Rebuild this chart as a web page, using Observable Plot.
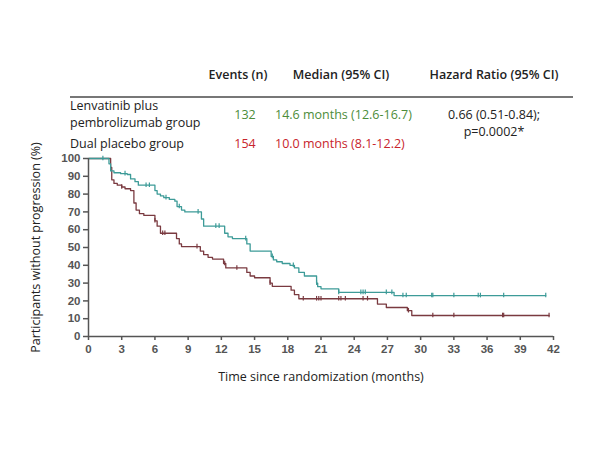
<!DOCTYPE html>
<html>
<head>
<meta charset="utf-8">
<script src="https://cdn.jsdelivr.net/npm/d3@7"></script>
<script src="https://cdn.jsdelivr.net/npm/@observablehq/plot@0.6"></script>
<style>
  html, body { margin: 0; padding: 0; background: #fff; }
  #wrap { position: relative; width: 600px; height: 450px; overflow: hidden; }
  #wrap svg { position: absolute; left: 0; top: 0; }
  .t { position: absolute; font-family: "Open Sans", "Liberation Sans", sans-serif; font-size: 12.5px; color: #222; white-space: nowrap; line-height: 17px; }
  .h { font-weight: 600; }
  .g { color: #4c8c3a; }
  .r { color: #c8242c; }
  .c { transform: translateX(-50%); text-align: center; }
  #hr { position: absolute; left: 70px; top: 96px; width: 503px; height: 0; border-top: 2px solid #777; }
</style>
</head>
<body>
<div id="wrap">
  <div class="t h c" style="left:238px;top:66px">Events (n)</div>
  <div class="t h c" style="left:341px;top:66px">Median (95% CI)</div>
  <div class="t h c" style="left:494px;top:66px">Hazard Ratio (95% CI)</div>
  <div id="hr"></div>
  <div class="t" style="left:70px;top:97px">Lenvatinib plus<br>pembrolizumab group</div>
  <div class="t g c" style="left:245px;top:106px">132</div>
  <div class="t g" style="left:275px;top:106px">14.6 months (12.6-16.7)</div>
  <div class="t c" style="left:494px;top:106px">0.66 (0.51-0.84);<br>p=0.0002*</div>
  <div class="t" style="left:70px;top:135px">Dual placebo group</div>
  <div class="t r c" style="left:245px;top:135px">154</div>
  <div class="t r" style="left:275px;top:135px">10.0 months (8.1-12.2)</div>
</div>
<script>
// Kaplan-Meier step data (months, % without progression)
const lenvaTime = [0, 1.85, 2.0, 2.3, 2.9, 3.5, 3.8, 4.2, 4.5, 6.0, 6.2, 6.5, 6.8, 7.3, 7.8, 8.0, 8.4, 8.7, 10.2, 10.4, 12.3, 12.6, 13.0, 14.3, 14.6, 16.5, 16.7, 17.0, 17.5, 18.2, 18.6, 19.0, 19.5, 20.6, 20.7, 21.0, 22.6, 27.6, 41.3];
const lenvaSurv = [100, 97, 93, 92, 91.5, 91, 88.5, 87, 85, 82, 80, 79, 78, 77, 76, 73, 71, 70, 66, 62, 58, 56, 55, 52, 48, 45, 43, 42, 41, 40, 38.5, 36, 34, 30, 28, 26.8, 24.8, 23, 23];
const placeboTime = [0, 2.0, 2.1, 2.3, 2.6, 3.0, 3.3, 3.8, 4.1, 4.3, 4.6, 5.0, 6.0, 6.2, 6.5, 7.95, 8.2, 8.4, 10.1, 10.4, 10.8, 11.2, 12.2, 12.4, 14.3, 14.6, 15.0, 16.4, 16.6, 18.3, 18.6, 19.0, 26.1, 26.9, 28.8, 29.2, 41.6];
const placeboSurv = [100, 95, 88, 86, 85, 84, 83, 82, 75, 71, 69, 68, 65, 62, 58, 55, 52, 50.5, 48, 46, 44.5, 43.5, 41, 38.5, 36, 34, 33, 30, 28.2, 26, 23.5, 21.2, 18.2, 16.3, 14.5, 11.8, 11.8];
// censoring marks (months)
const lenvaCensor = [1.3, 3.3, 5.2, 5.5, 7.0, 8.2, 9.9, 11.5, 11.8, 14.2, 16.6, 18.5, 20.6, 22.6, 24.6, 24.8, 25.0, 26.9, 27.4, 28.4, 28.7, 31.0, 31.1, 33.0, 35.2, 35.4, 37.5, 41.3];
const placeboCensor = [3.0, 6.0, 6.7, 6.9, 9.8, 12.3, 13.4, 16.4, 19.4, 20.6, 20.8, 21.0, 22.6, 22.8, 23.2, 24.8, 25.2, 28.9, 31.1, 33.0, 37.4, 37.5, 41.6];
const xTicks = d3.range(0, 43, 3);
const yTicks = d3.range(0, 101, 10);

const teal = "#3d9b98";
const maroon = "#7a3a40";

function steps(times, surv, group) {
  return times.map((t, i) => ({time: t, surv: surv[i], group}));
}
function survAt(times, surv, t) {
  let v = surv[0];
  for (let i = 0; i < times.length; i++) if (times[i] <= t) v = surv[i];
  return v;
}
function censors(ts, times, surv, group) {
  return ts.map(t => ({time: t, surv: survAt(times, surv, t), group}));
}
const lenva = steps(lenvaTime, lenvaSurv, "Lenvatinib plus pembrolizumab group");
const placebo = steps(placeboTime, placeboSurv, "Dual placebo group");
const lenvaC = censors(lenvaCensor, lenvaTime, lenvaSurv, "L");
const placeboC = censors(placeboCensor, placeboTime, placeboSurv, "P");

const chart = Plot.plot({
  width: 600,
  height: 450,
  marginLeft: 88,
  marginRight: 47,
  marginTop: 158,
  marginBottom: 114,
  style: {fontFamily: "Liberation Sans, Arial, sans-serif", fontSize: "11.5px", color: "#444", background: "transparent"},
  x: {domain: [0, 42], ticks: xTicks, tickSize: 4, tickPadding: 3, label: null},
  y: {domain: [0, 100], ticks: yTicks, tickSize: 5, tickPadding: 3, label: null},
  marks: [
    Plot.line(placebo, {x: "time", y: "surv", curve: "step-after", stroke: maroon, strokeWidth: 1.3}),
    Plot.line(lenva, {x: "time", y: "surv", curve: "step-after", stroke: teal, strokeWidth: 1.3}),
    Plot.ruleX(placeboC, {x: "time", y1: d => d.surv - 1.3, y2: d => d.surv + 1.3, stroke: maroon, strokeWidth: 1.2}),
    Plot.ruleX(lenvaC, {x: "time", y1: d => d.surv - 1.3, y2: d => d.surv + 1.3, stroke: teal, strokeWidth: 1.2}),
    Plot.ruleY([0], {stroke: "#555", strokeWidth: 1.5}),
    Plot.ruleX([0], {stroke: "#555", strokeWidth: 1.5}),
    Plot.axisX({ticks: xTicks, tickSize: 4, tickPadding: 4, stroke: "#555", strokeWidth: 1.5, fontWeight: "bold", fill: "#555", label: null}),
    Plot.axisY({ticks: yTicks, tickSize: 5, tickPadding: 3, stroke: "#555", strokeWidth: 1.5, fontWeight: "bold", fill: "#555", label: null}),
    Plot.text(["Time since randomization (months)"], {frameAnchor: "bottom", dy: 44, fontFamily: "Open Sans, sans-serif", fontSize: 12.5, fill: "#222"}),
    Plot.text(["Participants without progression (%)"], {frameAnchor: "left", textAnchor: "middle", dx: -53, rotate: -90, fontFamily: "Open Sans, sans-serif", fontSize: 12.5, fill: "#222"})
  ]
});
document.getElementById("wrap").prepend(chart);
</script>
</body>
</html>
